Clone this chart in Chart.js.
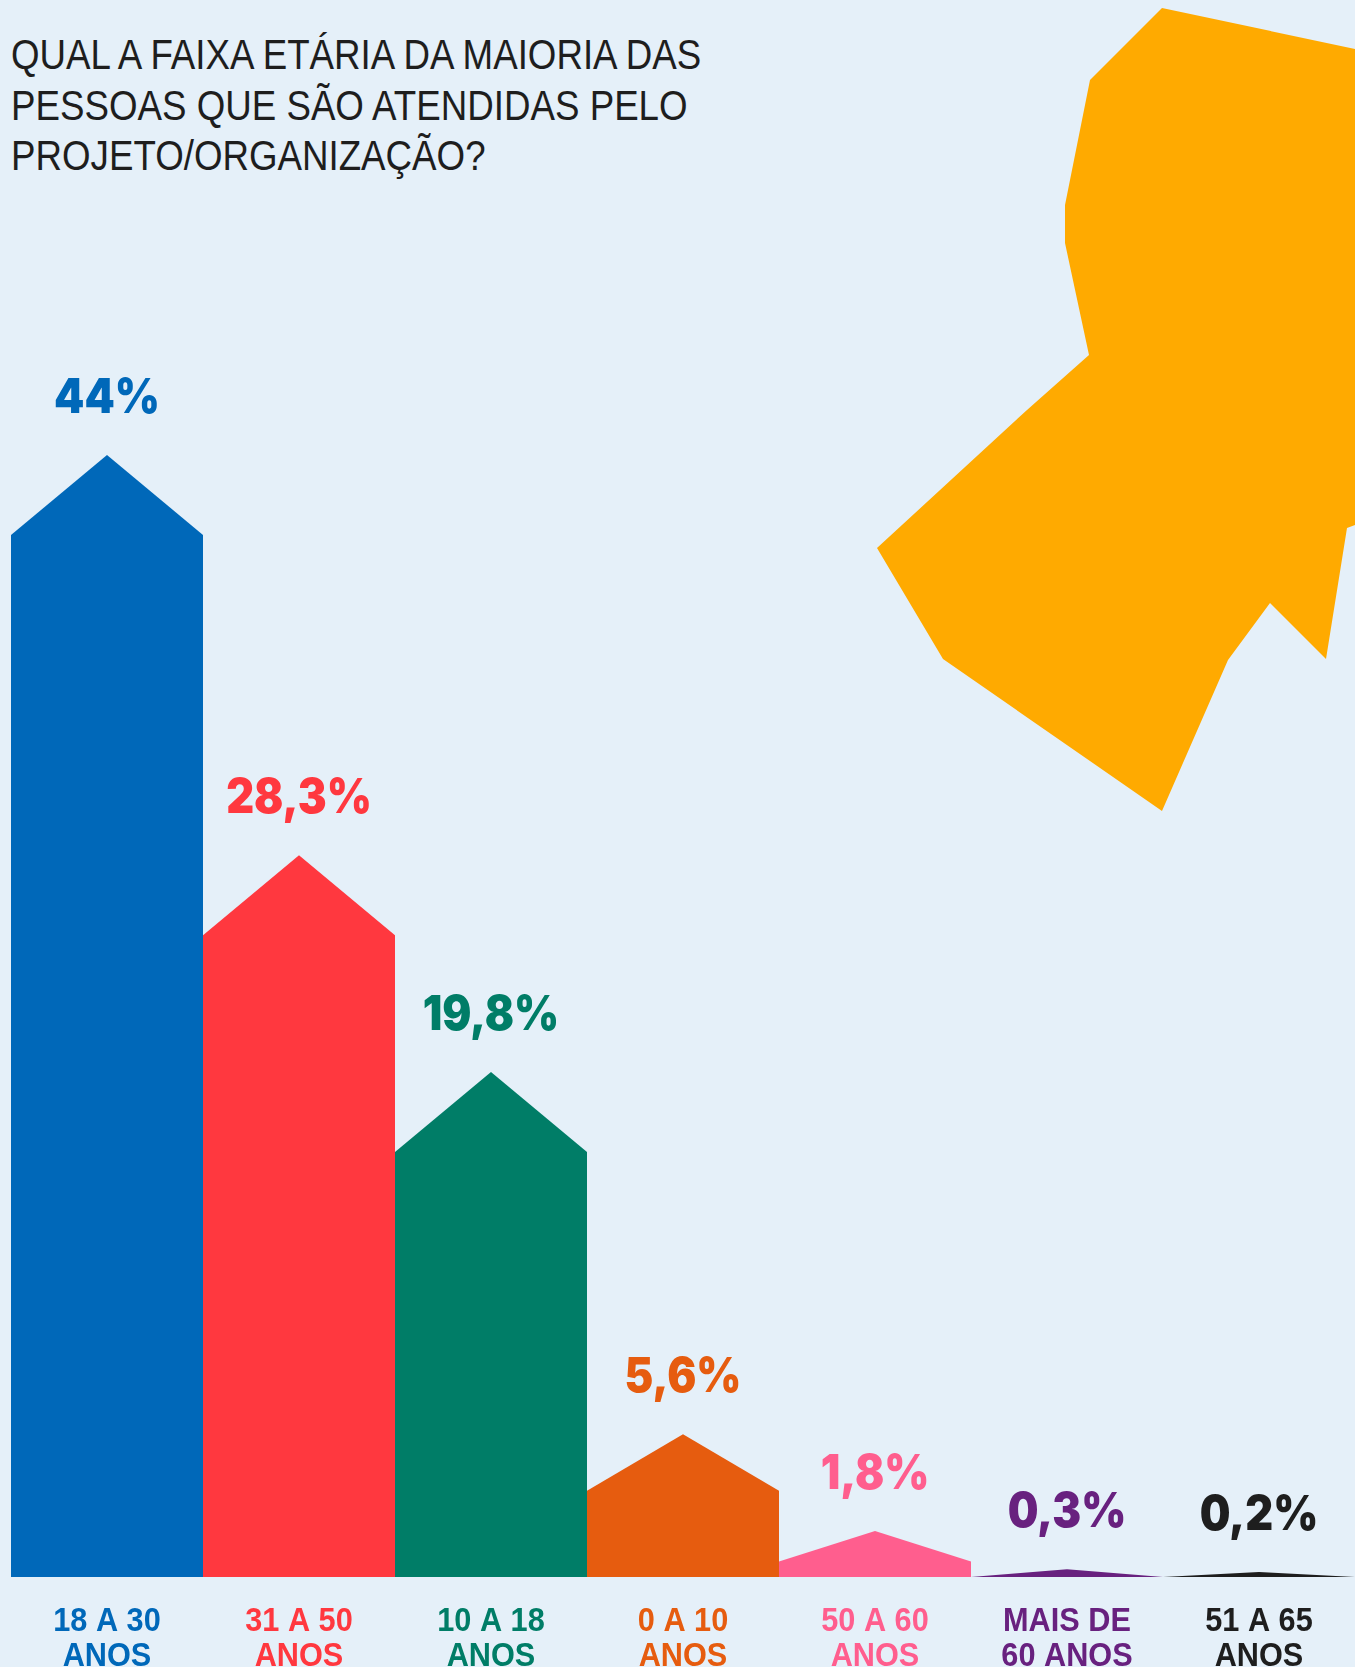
<!DOCTYPE html>
<html>
<head>
<meta charset="utf-8">
<script src="https://cdn.jsdelivr.net/npm/chart.js@4.4.0/dist/chart.umd.min.js"></script>
<style>
    html, body { margin: 0; padding: 0; background: #e5f0f9; width: 1355px; height: 1667px; overflow: hidden; }
    #wrap { position: relative; width: 1355px; height: 1667px; }
    #deco, #grafico { position: absolute; left: 0; top: 0; }
    h1 { position: absolute; left: 11px; top: 30px; margin: 0; white-space: nowrap;
         font: 400 42px "Liberation Sans", sans-serif; line-height: 50.5px; color: #1e1e1e;
         transform: scaleX(0.874); transform-origin: 0 0; }
</style>
</head>
<body>
<div id="wrap">
    <svg id="deco" width="1355" height="1667">
        <polygon fill="#ffaa00" points="1162,8 1355,49 1355,525 1347,528 1326,659 1270,603 1228,660 1162,811 943,659 877,548 1027,410 1089,355 1065,243 1065,205 1090,80"/>
    </svg>
    <h1>QUAL A FAIXA ETÁRIA DA MAIORIA DAS<br>PESSOAS QUE SÃO ATENDIDAS PELO<br>PROJETO/ORGANIZAÇÃO?</h1>
    <canvas id="grafico" width="1355" height="1667"></canvas>
</div>
<script>
const faixas = [["18 A 30", "ANOS"], ["31 A 50", "ANOS"], ["10 A 18", "ANOS"], ["0 A 10", "ANOS"], ["50 A 60", "ANOS"], ["MAIS DE", "60 ANOS"], ["51 A 65", "ANOS"]];
const percentuais = [44, 28.3, 19.8, 5.6, 1.8, 0.3, 0.2];
const cores = ["#0068b9", "#ff383f", "#007d67", "#e65c0f", "#ff5e8e", "#68217f", "#1e1e1e"];

// texto um pouco condensado na horizontal
function texto(ctx, str, x, y, sx) {
    ctx.save();
    ctx.translate(x, y);
    ctx.scale(sx, 1);
    ctx.fillText(str, 0, 0);
    ctx.restore();
}

// desenha cada barra como "casinha": retangulo + telhado
const casinhas = {
    id: "casinhas",
    afterDatasetsDraw(chart) {
        const ctx = chart.ctx;
        const meta = chart.getDatasetMeta(0);
        meta.data.forEach((bar, i) => {
            const h = bar.base - bar.y;
            const telhado = h < 25 ? h : Math.min(80, 18 + 0.27 * h);
            const esq = bar.x - bar.width / 2;
            const dir = bar.x + bar.width / 2;
            ctx.save();
            ctx.fillStyle = cores[i];
            ctx.beginPath();
            ctx.moveTo(esq, bar.base);
            ctx.lineTo(esq, bar.y + telhado);
            ctx.lineTo(bar.x, bar.y);
            ctx.lineTo(dir, bar.y + telhado);
            ctx.lineTo(dir, bar.base);
            ctx.closePath();
            ctx.fill();

            ctx.textAlign = "center";
            ctx.textBaseline = "alphabetic";
            ctx.font = "900 48px Inter";
            texto(ctx, percentuais[i].toLocaleString("pt-BR") + "%", bar.x, bar.y - 42, 0.9);

            ctx.font = "bold 33px 'Liberation Sans'";
            texto(ctx, faixas[i][0], bar.x, 1631, 0.93);
            texto(ctx, faixas[i][1], bar.x, 1666, 0.93);
            ctx.restore();
        });
    }
};

new Chart(document.getElementById("grafico").getContext("2d"), {
    type: "bar",
    data: {
        labels: faixas,
        datasets: [{
            data: percentuais,
            backgroundColor: "rgba(0,0,0,0)",
            barPercentage: 1,
            categoryPercentage: 1
        }]
    },
    options: {
        responsive: false,
        animation: false,
        layout: { padding: { left: 11, right: 0, top: 302, bottom: 90 } },
        scales: {
            x: { display: false },
            y: { display: false, min: 0, max: 50 }
        },
        plugins: {
            legend: { display: false },
            tooltip: { enabled: false }
        }
    },
    plugins: [casinhas]
});
</script>
</body>
</html>
